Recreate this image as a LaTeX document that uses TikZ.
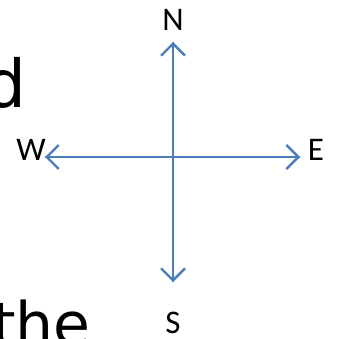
\documentclass[tikz,border=0pt]{standalone}
\usepackage{fontspec}
\setmainfont{Carlito}
\newfontfamily\bigfont{DejaVu Sans}
\usetikzlibrary{arrows.meta}
\definecolor{compassblue}{HTML}{4A7EBB}
\begin{document}
\begin{tikzpicture}[x=1pt,y=-1pt,
    every node/.style = {inner sep=0pt, font=\fontsize{33}{36}\selectfont},
    dir/.style = {draw=compassblue, line width=2.4pt,
    -{Straight Barb[length=12pt,width=24pt,line width=2.4pt]}}]
\useasboundingbox (0,0) rectangle (338,339);
\clip (0,0) rectangle (338,339);
\coordinate (c) at (173,157);
\node (n) at (173,20) {N};
\node (s) at (173,323) {S};
\node (w) at (31,150) {W};
\node (e) at (316,150) {E};
\coordinate (nn) at (173,42);
\coordinate (ss) at (173,282);
\coordinate (ww) at (45,157);
\coordinate (ee) at (300,157);
\draw[dir] (ss) -- (nn);
\draw[dir] (nn) -- (ss);
\draw[dir] (ee) -- (ww);
\draw[dir] (ww) -- (ee);
% cut-off words of the slide
\node[anchor=base east, font=\bigfont\fontsize{66}{70}\selectfont] (d) at (27,108) {d};
\node[anchor=base west, font=\bigfont\fontsize{60}{70}\selectfont] (the) at (-8,345) {the};
\end{tikzpicture}
\end{document}
